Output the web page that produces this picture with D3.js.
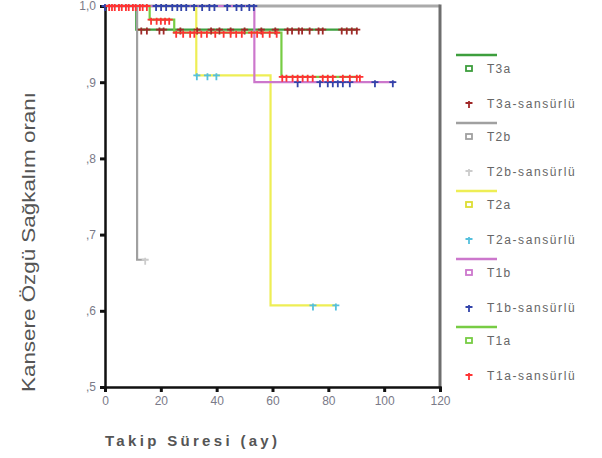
<!DOCTYPE html>
<html>
<head>
<meta charset="utf-8">
<script src="https://cdn.jsdelivr.net/npm/d3@7"></script>
<style>
  body { margin: 0; background: #fff; }
  svg { font-family: "Liberation Sans", Arial, sans-serif; }
</style>
</head>
<body>
<div id="chart"></div>
<script>
// groups, drawn in this order
const groups = ["T3a", "T2b", "T2a", "T1b", "T1a"];
const lineColors = ["#3d9e3d", "#a0a0a0", "#eeee55", "#cc77cc", "#77cc44"];
const censColors = ["#a02828", "#cccccc", "#55c0dd", "#3344aa", "#ff3333"];

// step points: [time, survival], plus end of follow-up
const t3aSteps = [[0, 1], [11.2, 0.969]];
const t3aEnd = 90.5;
const t2bSteps = [[0, 1], [11.5, 0.667]];
const t2bEnd = 14.4;
const t2aSteps = [[0, 1], [32.7, 0.909], [59.3, 0.607]];
const t2aEnd = 82.7;
const t1bSteps = [[0, 1], [53.5, 0.9]];
const t1bEnd = 103.8;
const t1aSteps = [[0, 1], [16, 0.982], [24.8, 0.965], [63.2, 0.907]];
const t1aEnd = 91.5;

// censored observations: [time, survival]
const t3aCens = [13, 15, 19.5, 21, 27, 33, 38, 41, 45, 50, 56, 61, 65.4, 67, 69.4, 70.6, 73.3, 76.5, 78, 84.8, 86.6, 88.4, 90.2]
  .map(t => [t, 0.969]);
const t2bCens = [[14.4, 0.667]];
const t2aCens = [[32.9, 0.909], [36.7, 0.909], [39.9, 0.909], [74.5, 0.607], [82.7, 0.607]];
const t1bCens = [0, 18.3, 20.1, 21.9, 24.1, 25.9, 27.3, 29.1, 31.9, 34.8, 37.4, 39.2, 43.8, 47.1, 48.9, 51.7, 53.3].map(t => [t, 1])
  .concat([69, 77, 79.8, 81.6, 83.4, 85.2, 87.7, 96.7, 103.1].map(t => [t, 0.9]));
const t1aCens = [1.5, 2.5, 3.5, 5, 6, 7.5, 8.5, 10, 11, 12.5, 13.5, 15].map(t => [t, 1])
  .concat([16.5, 18.5, 20, 21.5, 23].map(t => [t, 0.982]))
  .concat([25.5, 28, 30.5, 32, 34.5, 36.5, 39.5, 42.5, 45, 47, 49, 52.5, 54.5, 56.5, 59, 61.5].map(t => [t, 0.965]))
  .concat([63.5, 65, 67.2, 69, 70.8, 72.6, 74.4, 78, 79.8, 81.6, 85.2, 87.7, 90.2, 91.3].map(t => [t, 0.907]));

const allSteps = [t3aSteps, t2bSteps, t2aSteps, t1bSteps, t1aSteps];
const allEnds = [t3aEnd, t2bEnd, t2aEnd, t1bEnd, t1aEnd];
const allCens = [t3aCens, t2bCens, t2aCens, t1bCens, t1aCens];

const xTicks = [0, 20, 40, 60, 80, 100, 120];
const yTicks = [0.5, 0.6, 0.7, 0.8, 0.9, 1.0];
const yTickLabels = [",5", ",6", ",7", ",8", ",9", "1,0"];

const width = 602, height = 458;
const svg = d3.select("#chart").append("svg")
  .attr("width", width).attr("height", height);

const x = d3.scaleLinear().domain([0, 120]).range([105, 440]);
const y = d3.scaleLinear().domain([0.5, 1]).range([387, 6]);

// frame (top and right)
svg.append("line").attr("x1", x(0)).attr("x2", x(120)).attr("y1", y(1)).attr("y2", y(1))
  .attr("stroke", "#aaaaaa").attr("stroke-width", 3);
svg.append("line").attr("x1", x(120)).attr("x2", x(120)).attr("y1", y(1) - 1.5).attr("y2", y(0.5))
  .attr("stroke", "#6e6e6e").attr("stroke-width", 3);

// axes
const xAxis = svg.append("g").attr("transform", `translate(0,${y(0.5)})`)
  .call(d3.axisBottom(x).tickValues(xTicks).tickSize(5).tickPadding(4));
const yAxis = svg.append("g").attr("transform", `translate(${x(0)},0)`)
  .call(d3.axisLeft(y).tickValues(yTicks).tickSize(5).tickPadding(4)
    .tickFormat((d, i) => yTickLabels[i]));
[xAxis, yAxis].forEach(g => {
  g.select(".domain").attr("stroke", "#111").attr("stroke-width", 2.5);
  g.selectAll(".tick line").attr("stroke", "#111").attr("stroke-width", 3);
  g.selectAll(".tick text").attr("fill", "#7a7a88").attr("font-size", 12);
});

// survival step curves
const stepLine = d3.line().x(d => x(d[0])).y(d => y(d[1])).curve(d3.curveStepAfter);
allSteps.forEach((steps, i) => {
  const pts = steps.concat([[allEnds[i], steps[steps.length - 1][1]]]);
  svg.append("path").attr("d", stepLine(pts))
    .attr("fill", "none").attr("stroke", lineColors[i]).attr("stroke-width", 2.2);
});

// censor marks
function cross(g, cx, cy, color) {
  g.append("path")
    .attr("d", `M${cx - 3.5},${cy}H${cx + 3.5}M${cx},${cy - 2}V${cy + 5}`)
    .attr("stroke", color).attr("stroke-width", 1.8).attr("fill", "none");
}
allCens.forEach((cens, i) => {
  const g = svg.append("g");
  cens.forEach(d => cross(g, x(d[0]), y(d[1]), censColors[i]));
});

// legend
const legend = svg.append("g");
groups.forEach((name, i) => {
  const base = 55 + i * 68;
  legend.append("line").attr("x1", 456).attr("x2", 497).attr("y1", base).attr("y2", base)
    .attr("stroke", lineColors[i]).attr("stroke-width", 2.5);
  legend.append("rect").attr("x", 466).attr("y", base + 11).attr("width", 6).attr("height", 5)
    .attr("fill", "#fff").attr("stroke", lineColors[i] === "#eeee55" ? "#dddd33" : lineColors[i]).attr("stroke-width", 1.8);
  legend.append("text").attr("x", 487).attr("y", base + 18).text(name)
    .attr("font-size", 12).attr("letter-spacing", 1.2).attr("fill", "#666");
  cross(legend, 469, base + 48, censColors[i]);
  legend.append("text").attr("x", 487).attr("y", base + 53).text(name + "-sansürlü")
    .attr("font-size", 12).attr("letter-spacing", 1.6).attr("fill", "#666");
});

// axis titles
svg.append("text")
  .attr("transform", "translate(35,242) rotate(-90)")
  .attr("text-anchor", "middle").attr("font-size", 18).attr("fill", "#555")
  .attr("textLength", 300).attr("lengthAdjust", "spacingAndGlyphs")
  .text("Kansere Özgü Sağkalım oranı");
svg.append("text")
  .attr("x", 105).attr("y", 446).attr("font-size", 15).attr("font-weight", "bold")
  .attr("fill", "#555").attr("textLength", 172).attr("lengthAdjust", "spacing")
  .text("Takip Süresi (ay)");
</script>
</body>
</html>
